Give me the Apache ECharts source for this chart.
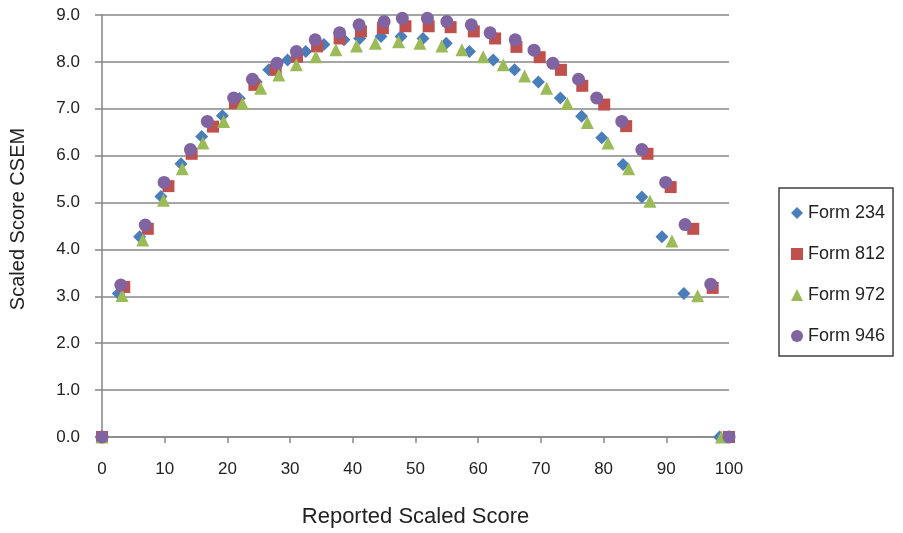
<!DOCTYPE html>
<html>
<head>
<meta charset="utf-8">
<script src="https://cdn.jsdelivr.net/npm/echarts@6/dist/echarts.min.js"></script>
<style>
  html, body { margin: 0; padding: 0; background: #fff; }
  #main { width: 903px; height: 533px; }
</style>
</head>
<body>
<div id="main"></div>
<script>
// scaled score (x) / CSEM (y)
const form234X = [0, 2.6, 6.0, 9.4, 12.6, 15.9, 19.2, 21.9, 24.6, 26.6, 29.6, 32.5, 35.4, 38.6, 41.1, 44.5, 47.7, 51.2, 54.9, 58.6, 62.4, 65.8, 69.6, 73.1, 76.5, 79.7, 83.1, 86.1, 89.3, 92.8, 98.5];
const form234Y = [0, 3.06, 4.27, 5.13, 5.83, 6.41, 6.85, 7.22, 7.57, 7.83, 8.04, 8.22, 8.37, 8.47, 8.50, 8.54, 8.54, 8.50, 8.40, 8.22, 8.04, 7.83, 7.57, 7.23, 6.84, 6.38, 5.81, 5.12, 4.27, 3.06, 0];

const form812X = [0, 3.55, 7.3, 10.6, 14.3, 17.7, 21.2, 24.3, 27.7, 31.1, 34.3, 37.9, 41.3, 44.8, 48.4, 52.1, 55.6, 59.3, 62.7, 66.1, 69.8, 73.2, 76.6, 80.1, 83.6, 87.0, 90.7, 94.3, 97.4, 100];
const form812Y = [0, 3.20, 4.44, 5.35, 6.04, 6.62, 7.12, 7.51, 7.83, 8.11, 8.33, 8.50, 8.65, 8.72, 8.76, 8.76, 8.74, 8.65, 8.50, 8.32, 8.10, 7.83, 7.49, 7.09, 6.63, 6.04, 5.33, 4.44, 3.18, 0];

const form972X = [0, 3.2, 6.5, 9.8, 12.8, 16.1, 19.4, 22.4, 25.3, 28.2, 31.0, 34.1, 37.3, 40.6, 43.6, 47.3, 50.7, 54.2, 57.4, 60.8, 64.0, 67.4, 70.9, 74.2, 77.4, 80.7, 84.0, 87.4, 90.9, 95.0, 98.8];
const form972Y = [0, 3.02, 4.20, 5.05, 5.72, 6.27, 6.73, 7.11, 7.44, 7.72, 7.94, 8.11, 8.26, 8.34, 8.40, 8.43, 8.40, 8.34, 8.26, 8.11, 7.94, 7.70, 7.44, 7.11, 6.71, 6.27, 5.72, 5.03, 4.18, 3.01, 0];

const form946X = [0, 3.0, 6.9, 9.9, 14.1, 16.8, 21.0, 24.0, 27.9, 31.0, 34.0, 37.9, 41.0, 45.0, 47.9, 51.9, 55.0, 58.9, 61.9, 65.9, 68.9, 71.9, 76.0, 78.9, 82.9, 86.1, 89.9, 93.0, 97.1, 100];
const form946Y = [0, 3.24, 4.52, 5.43, 6.13, 6.73, 7.23, 7.63, 7.97, 8.22, 8.47, 8.62, 8.79, 8.86, 8.93, 8.93, 8.86, 8.79, 8.62, 8.47, 8.25, 7.97, 7.63, 7.23, 6.73, 6.13, 5.43, 4.53, 3.26, 0];

const seriesNames = ['Form 234', 'Form 812', 'Form 972', 'Form 946'];

function pairs(xs, ys) {
  return xs.map((x, i) => [x, ys[i]]);
}

const font = "'Liberation Sans', Arial, sans-serif";
const chart = echarts.init(document.getElementById('main'), null, { renderer: 'canvas' });

const option = {
  animation: false,
  backgroundColor: '#fff',
  textStyle: { fontFamily: font },
  grid: { left: 101, right: 174, top: 15, bottom: 95 },
  xAxis: {
    type: 'value',
    min: 0,
    max: 100,
    interval: 10,
    name: 'Reported Scaled Score',
    nameLocation: 'middle',
    nameGap: 69,
    nameTextStyle: { fontSize: 22, color: '#222', fontFamily: font },
    axisLine: { lineStyle: { color: '#868686', width: 1.5 } },
    axisTick: { show: true, length: 6, lineStyle: { color: '#868686', width: 1.5 } },
    axisLabel: { fontSize: 17, color: '#222', margin: 24, fontFamily: font },
    splitLine: { show: false }
  },
  yAxis: {
    type: 'value',
    min: 0,
    max: 9,
    interval: 1,
    name: 'Scaled Score CSEM',
    nameLocation: 'middle',
    nameGap: 74,
    nameTextStyle: { fontSize: 20, color: '#222', fontFamily: font, padding: [0, 0, 0, 14] },
    axisLine: { show: true, lineStyle: { color: '#868686', width: 1.5 } },
    axisTick: { show: true, length: 7, lineStyle: { color: '#868686', width: 1.5 } },
    axisLabel: {
      fontSize: 17, color: '#222', margin: 22, fontFamily: font,
      formatter: v => v.toFixed(1)
    },
    splitLine: { show: true, lineStyle: { color: '#878787', width: 1.5 } }
  },
  legend: {
    orient: 'vertical',
    left: 779,
    top: 188,
    padding: [16, 8, 11, 12],
    itemGap: 23,
    itemWidth: 12,
    itemHeight: 12,
    borderColor: '#404040',
    borderWidth: 1.5,
    textStyle: { fontSize: 18, color: '#222', fontFamily: font },
    data: [
      { name: 'Form 234', icon: 'diamond' },
      { name: 'Form 812', icon: 'rect' },
      { name: 'Form 972', icon: 'triangle' },
      { name: 'Form 946', icon: 'circle' }
    ]
  },
  series: [
    {
      name: seriesNames[0], type: 'scatter', symbol: 'diamond', symbolSize: 13,
      itemStyle: { color: '#4A7EBB', opacity: 1 },
      data: pairs(form234X, form234Y)
    },
    {
      name: seriesNames[1], type: 'scatter', symbol: 'rect', symbolSize: 12,
      itemStyle: { color: '#C0504D', opacity: 1 },
      data: pairs(form812X, form812Y)
    },
    {
      name: seriesNames[2], type: 'scatter', symbol: 'triangle', symbolSize: 13,
      itemStyle: { color: '#9BBB59', opacity: 1 },
      data: pairs(form972X, form972Y)
    },
    {
      name: seriesNames[3], type: 'scatter', symbol: 'circle', symbolSize: 13,
      itemStyle: { color: '#8064A2', opacity: 1 },
      data: pairs(form946X, form946Y)
    }
  ]
};

chart.setOption(option);
</script>
</body>
</html>
